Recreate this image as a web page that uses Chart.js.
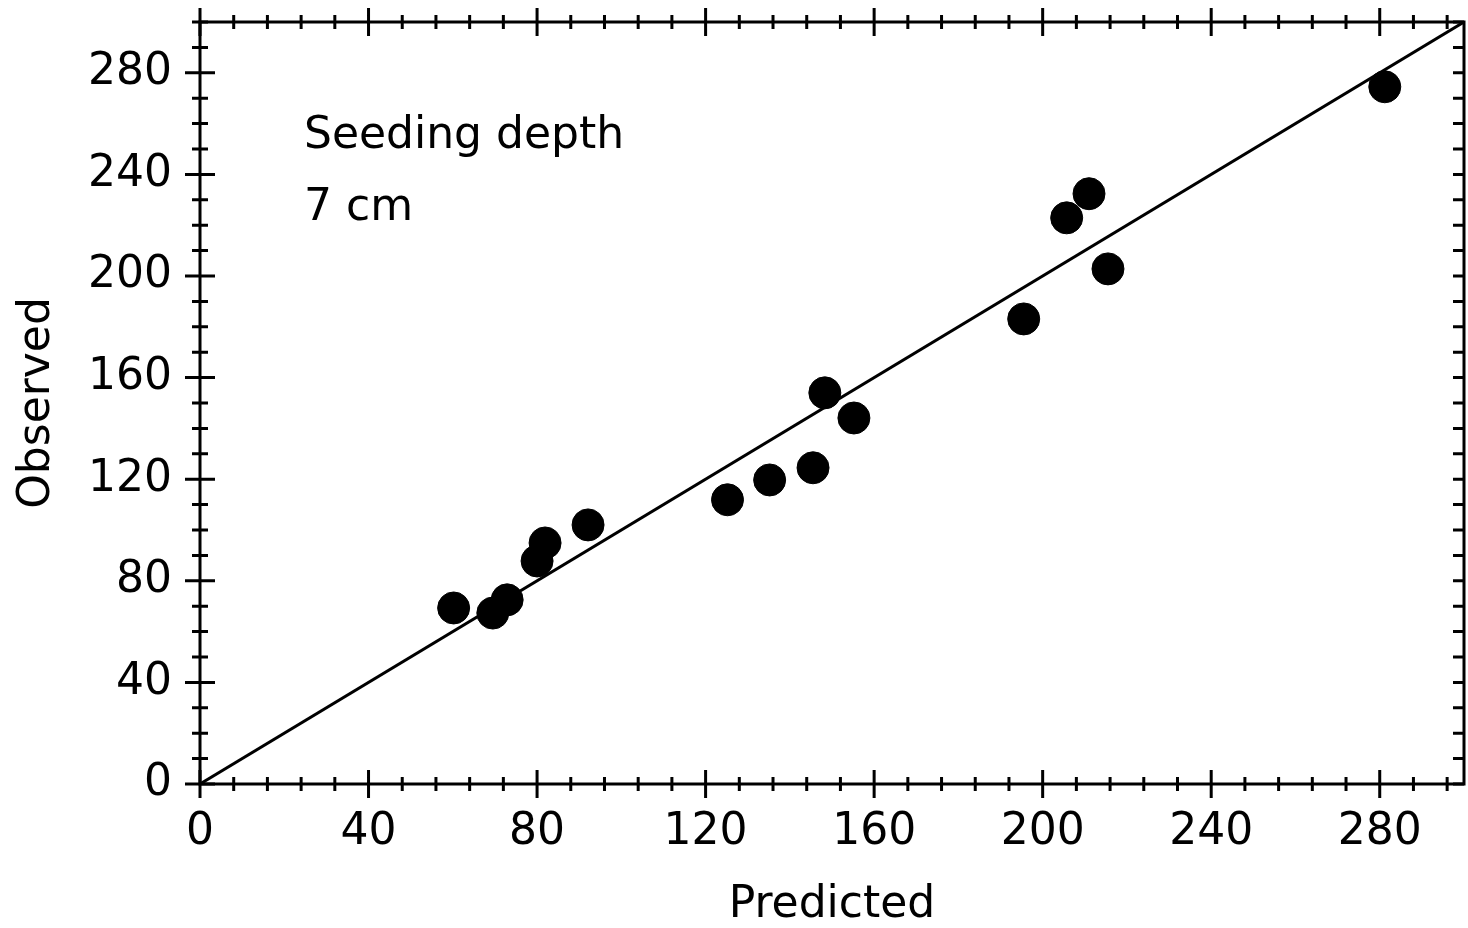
<!DOCTYPE html>
<html>
<head>
<meta charset="utf-8">
<script src="https://cdn.jsdelivr.net/npm/chart.js@4"></script>
<style>
  body { margin: 0; background: #fff; }
</style>
</head>
<body>
<canvas id="chart" width="1468" height="928"></canvas>
<script>
// observed vs predicted, seeding depth 7 cm
const predicted = [60.2, 69.5, 72.9, 80.0, 81.9, 92.1, 125.2, 135.2, 145.5, 148.3, 155.2, 195.5, 205.7, 211.0, 215.5, 281.2];
const observed  = [69.3, 67.3, 72.5, 87.8, 94.9, 102.0, 111.9, 119.7, 124.5, 154.0, 144.1, 183.1, 222.9, 232.4, 202.8, 274.5];
const oneToOne = [0, 300];
const axisMin = 0, axisMax = 300;
const xMajor = 40, xMinor = 8;
const yMajor = 40, yMinor = 10;
const noteLines = ['Seeding depth', '7 cm'];

const font = 'DejaVu Sans';

// frame with crossing ticks on left/bottom/top and inward ticks on the right
const frame = {
    id: 'frame',
    afterDatasetsDraw(chart) {
        const ctx = chart.ctx;
        const a = chart.chartArea;
        const xs = chart.scales.x, ys = chart.scales.y;
        ctx.save();
        ctx.strokeStyle = '#000';
        ctx.lineWidth = 3;
        ctx.lineCap = 'butt';
        ctx.strokeRect(a.left, a.top, a.right - a.left, a.bottom - a.top);
        ctx.beginPath();
        for (let v = axisMin; v <= axisMax; v += xMinor) {
            const px = xs.getPixelForValue(v);
            const h = v % xMajor === 0 ? 14 : 7;
            ctx.moveTo(px, a.bottom - h); ctx.lineTo(px, a.bottom + h);
            ctx.moveTo(px, a.top - h); ctx.lineTo(px, a.top + h);
        }
        for (let v = axisMin; v <= axisMax; v += yMinor) {
            const py = ys.getPixelForValue(v);
            const h = v % yMajor === 0 ? 15 : 8;
            ctx.moveTo(a.left - h, py); ctx.lineTo(a.left + h, py);
            ctx.moveTo(a.right - 11, py); ctx.lineTo(a.right, py);
        }
        ctx.stroke();

        ctx.fillStyle = '#000';
        ctx.font = '44px "' + font + '"';
        ctx.textAlign = 'left';
        ctx.textBaseline = 'alphabetic';
        ctx.fillText(noteLines[0], a.left + 104, a.top + 126);
        ctx.fillText(noteLines[1], a.left + 104, a.top + 198);
        ctx.restore();
    }
};

new Chart(document.getElementById('chart'), {
    type: 'scatter',
    data: {
        datasets: [
            {
                label: 'Observed',
                data: predicted.map((p, i) => ({ x: p, y: observed[i] })),
                backgroundColor: '#000',
                borderColor: '#000',
                pointRadius: 16,
                pointHoverRadius: 16
            },
            {
                label: '1:1',
                data: oneToOne.map(v => ({ x: v, y: v })),
                showLine: true,
                borderColor: '#000',
                borderWidth: 3,
                pointRadius: 0,
                fill: false
            }
        ]
    },
    options: {
        responsive: false,
        animation: false,
        devicePixelRatio: 1,
        layout: { autoPadding: false, padding: { top: 22, right: 4, left: 0, bottom: 0 } },
        plugins: { legend: { display: false }, tooltip: { enabled: false } },
        scales: {
            x: {
                type: 'linear',
                min: axisMin,
                max: axisMax,
                border: { display: false },
                grid: { display: false, drawTicks: false },
                ticks: {
                    stepSize: xMajor,
                    includeBounds: false,
                    autoSkip: false,
                    maxRotation: 0,
                    padding: 22,
                    color: '#000',
                    font: { family: font, size: 44 }
                },
                title: {
                    display: true,
                    text: 'Predicted',
                    color: '#000',
                    padding: 0,
                    font: { family: font, size: 44, lineHeight: 1 }
                },
                afterFit: s => { s.height = 144; s.paddingRight = 0; s.paddingLeft = 0; }
            },
            y: {
                type: 'linear',
                min: axisMin,
                max: axisMax,
                border: { display: false },
                grid: { display: false, drawTicks: false },
                ticks: {
                    stepSize: yMajor,
                    includeBounds: false,
                    autoSkip: false,
                    padding: 28,
                    color: '#000',
                    font: { family: font, size: 44 }
                },
                title: {
                    display: true,
                    text: 'Observed',
                    color: '#000',
                    padding: { top: 16, bottom: 0 },
                    font: { family: font, size: 44, lineHeight: 1 }
                },
                afterFit: s => { s.width = 200; s.paddingTop = 0; s.paddingBottom = 0; }
            }
        }
    },
    plugins: [frame]
});
</script>
</body>
</html>
